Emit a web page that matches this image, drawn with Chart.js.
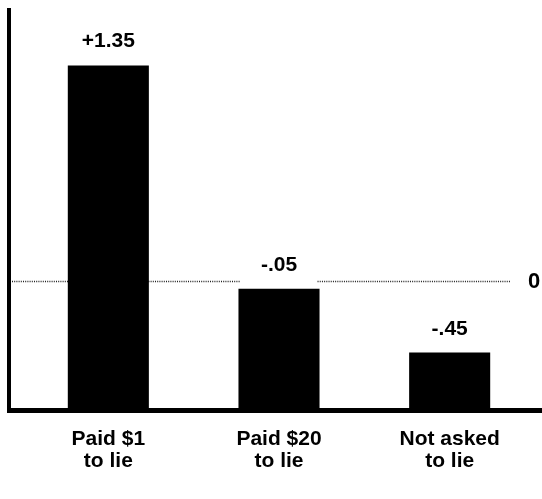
<!DOCTYPE html>
<html>
<head>
<meta charset="utf-8">
<script src="https://cdn.jsdelivr.net/npm/chart.js@4"></script>
<style>
  html, body { margin: 0; padding: 0; background: #fff; }
  #wrap { width: 542px; height: 499px; }
</style>
</head>
<body>
<div id="wrap"><canvas id="attitude" width="542" height="499"></canvas></div>
<script>
// Attitude change by condition
const groups = [['Paid $1', 'to lie'], ['Paid $20', 'to lie'], ['Not asked', 'to lie']];
const change = [1.35, -0.05, -0.45];

// value range of the vertical scale (bars grow up from the bottom edge)
const yMin = -0.81;
const yMax = 1.71;

const FONT = '"Liberation Sans", Arial, Helvetica, sans-serif';

// +1.35 / -.05 style
function fmt(v) {
    const s = Math.abs(v).toFixed(2).replace(/^0/, '');
    return (v > 0 ? '+' : '-') + s;
}

const overlay = {
    id: 'overlay',
    beforeDatasetsDraw(chart) {
        const { ctx } = chart;
        const y0 = Math.round(chart.scales.y.getPixelForValue(0)) + 0.5;
        const bars = chart.getDatasetMeta(0).data;

        // dotted zero line, broken where a small value's label sits on it
        const gaps = [];
        change.forEach((v, i) => {
            if (Math.abs(v) < 0.1) {
                const b = bars[i];
                gaps.push([b.x - b.width / 2 + 2, b.x + b.width / 2 - 2]);
            }
        });
        let segs = [[12, 510]];
        gaps.forEach(([a, b]) => {
            segs = segs.flatMap(([s, e]) => (b < s || a > e) ? [[s, e]] : [[s, a], [b, e]].filter(p => p[1] > p[0]));
        });
        ctx.save();
        ctx.strokeStyle = '#222';
        ctx.lineWidth = 1.3;
        ctx.setLineDash([1, 1.2]);
        segs.forEach(([s, e]) => {
            ctx.beginPath();
            ctx.moveTo(s, y0);
            ctx.lineTo(e, y0);
            ctx.stroke();
        });
        ctx.restore();

        ctx.save();
        ctx.fillStyle = '#000';
        ctx.font = 'bold 22px ' + FONT;
        ctx.textAlign = 'center';
        ctx.textBaseline = 'middle';
        ctx.fillText('0', 534, y0);
        ctx.restore();
    },
    afterDatasetsDraw(chart) {
        const { ctx, chartArea } = chart;
        const bars = chart.getDatasetMeta(0).data;

        ctx.save();
        ctx.fillStyle = '#000';
        ctx.font = 'bold 21px ' + FONT;
        ctx.textAlign = 'center';
        ctx.textBaseline = 'alphabetic';
        bars.forEach((b, i) => {
            ctx.fillText(fmt(change[i]), b.x, b.y - 18);
        });

        // left and bottom axis rules
        ctx.fillRect(7, 8, 4, chartArea.bottom + 3 - 8);
        ctx.fillRect(7, chartArea.bottom - 2, chart.width - 7, 5);
        ctx.restore();
    }
};

new Chart(document.getElementById('attitude'), {
    type: 'bar',
    data: {
        labels: groups,
        datasets: [{
            data: change,
            base: yMin,
            backgroundColor: '#000',
            borderWidth: 0,
            categoryPercentage: 1,
            barPercentage: 0.475
        }]
    },
    options: {
        responsive: false,
        animation: false,
        layout: { padding: { top: 8, left: 23, right: 7, bottom: 0 } },
        plugins: {
            legend: { display: false },
            tooltip: { enabled: false }
        },
        scales: {
            x: {
                grid: { display: false, drawTicks: false },
                border: { display: false },
                ticks: {
                    color: '#000',
                    padding: 18,
                    maxRotation: 0,
                    font: { family: FONT, size: 21, weight: 'bold', lineHeight: '22px' }
                },
                afterFit(scale) { scale.height = 89; }
            },
            y: {
                display: false,
                min: yMin,
                max: yMax
            }
        }
    },
    plugins: [overlay]
});
</script>
</body>
</html>
